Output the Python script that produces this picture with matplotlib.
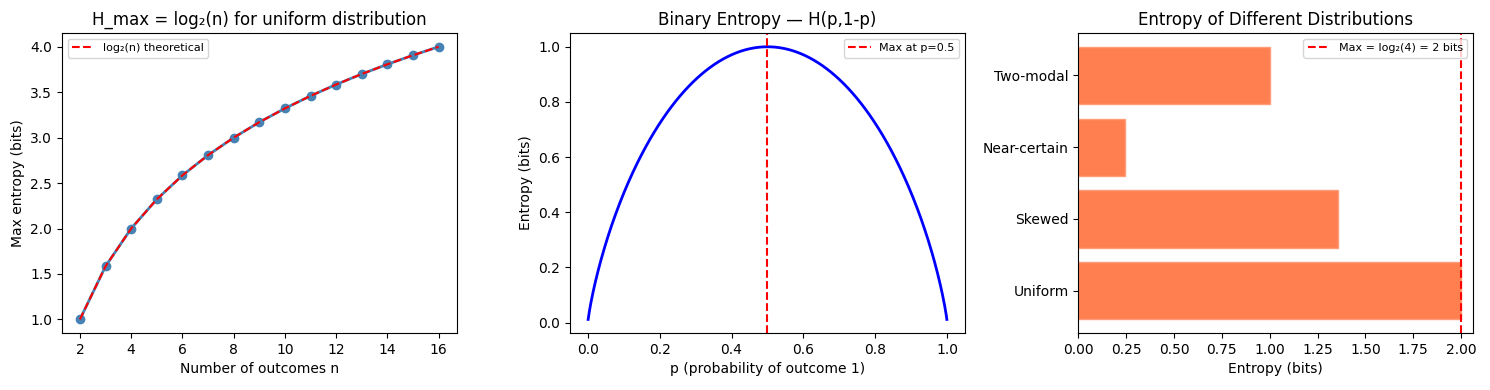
import numpy as np
import matplotlib
matplotlib.use('Agg')
import matplotlib.pyplot as plt

# data
n_values = np.arange(2, 17)
h_max = np.log2(n_values)

p_values = np.linspace(0.001, 0.999, 500)
h_binary = -p_values * np.log2(p_values) - (1 - p_values) * np.log2(1 - p_values)

dist_names = ['Uniform', 'Skewed', 'Near-certain', 'Two-modal']
dist_entropy = [2.0, 1.357, 0.242, 1.0]

fig, axes = plt.subplots(1, 3, figsize=(14.9, 3.9))

# uniform max entropy
ax = axes[0]
ax.plot(n_values, h_max, 'o-', color='steelblue', linewidth=2)
ax.plot(n_values, h_max, 'r--', label='log\u2082(n) theoretical')
ax.set_xlabel('Number of outcomes n')
ax.set_ylabel('Max entropy (bits)')
ax.set_title('H_max = log\u2082(n) for uniform distribution')
ax.legend(fontsize=8, loc='upper left')

# binary entropy
ax = axes[1]
ax.plot(p_values, h_binary, 'b-', linewidth=2)
ax.axvline(0.5, color='red', linestyle='--', label='Max at p=0.5')
ax.set_xlabel('p (probability of outcome 1)')
ax.set_ylabel('Entropy (bits)')
ax.set_title('Binary Entropy \u2014 H(p,1-p)')
ax.legend(fontsize=8, loc='upper right')

# distributions
ax = axes[2]
ax.barh(dist_names, dist_entropy, color='coral', edgecolor='#ff9d7a', linewidth=1)
ax.axvline(2, color='red', linestyle='--', label='Max = log\u2082(4) = 2 bits')
ax.set_xlim(0, 2.063)
ax.set_xlabel('Entropy (bits)')
ax.set_title('Entropy of Different Distributions')
ax.legend(fontsize=8, loc='upper right')

plt.subplots_adjust(left=0.0416, right=0.9886, top=0.915, bottom=0.146, wspace=0.288)
plt.savefig('out.png', dpi=100)
